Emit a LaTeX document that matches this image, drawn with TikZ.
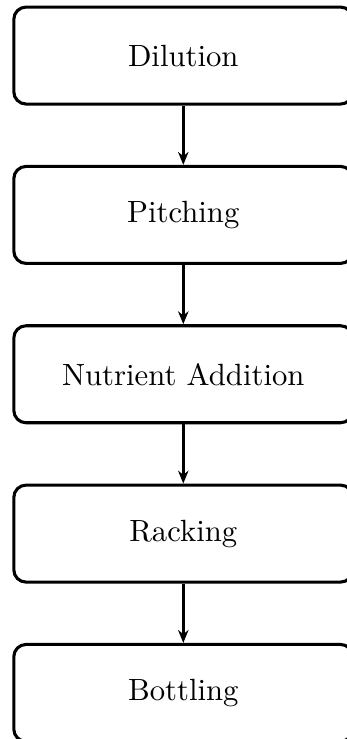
\documentclass[tikz,border=0pt]{standalone}
\usetikzlibrary{positioning,arrows.meta}
\begin{document}
\begin{tikzpicture}[
        stage/.style={draw, line width=1pt, rounded corners, minimum width=110.4pt, minimum height=31.6pt, align=center},
        node distance=19.3pt
    ]
        \useasboundingbox (-59.7pt,18.1pt) rectangle (53.3pt,-222.6pt);

        \node[stage] (dilution) at (0,0) {Dilution};
        \node[stage, below=of dilution] (pitching) {Pitching};
        \node[stage, below=of pitching] (nutrient) {Nutrient Addition};
        \node[stage, below=of nutrient] (racking) {Racking};
        \node[stage, below=of racking] (bottling) {Bottling};

        \foreach \a/\b in {dilution/pitching, pitching/nutrient, nutrient/racking, racking/bottling}
            \draw[-{Stealth[length=4.2pt,width=3.4pt]}, thick] (\a) -- (\b);
\end{tikzpicture}
\end{document}
